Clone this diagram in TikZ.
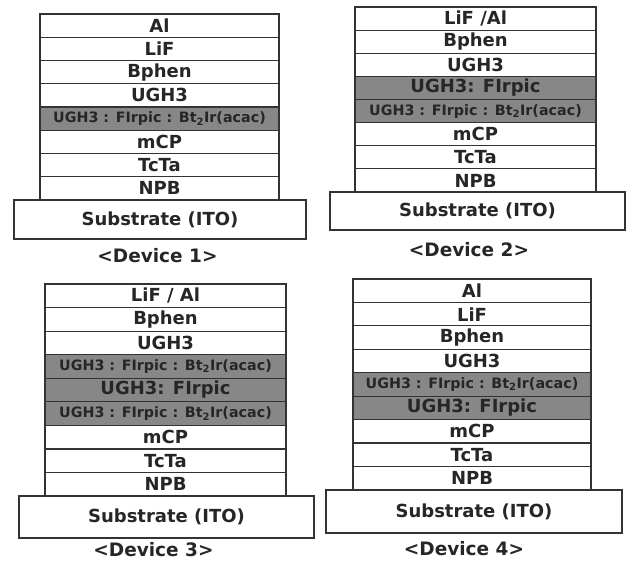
\documentclass[tikz,border=0pt]{standalone}
\usepackage{fontspec}
\setmainfont{DejaVu Sans}
\begin{document}
\begin{tikzpicture}[x=1pt,y=-1pt,
  base/.style={draw=black!80, line width=1.2pt, inner sep=0pt, text=black!85, font=\bfseries\fontsize{18}{18}\selectfont},
  plain/.style={base, fill=white},
  host/.style={base, fill=black!47},
  mix/.style={base, fill=black!47, font=\bfseries\fontsize{14.3}{14.3}\selectfont},
  subst/.style={base, fill=white, line width=1.6pt, font=\bfseries\fontsize{18}{18}\selectfont},
  devlabel/.style={inner sep=0pt, text=black!85, font=\bfseries\fontsize{18.5}{18.5}\selectfont}]
\useasboundingbox (0,0) rectangle (629,560);
\def\mixtxt{UGH3 : FIrpic : Bt\textsubscript{2}Ir(acac)}
% Device 1
\begin{scope}[every node/.append style={minimum width=239pt, minimum height=23.25pt}]
\foreach \lab/\sty [count=\i] in {Al/plain, LiF/plain, Bphen/plain, UGH3/plain, {\mixtxt}/mix, mCP/plain, TcTa/plain, NPB/plain}
  \node[\sty] (a\i) at (159.5,{14+(\i-0.5)*23.25}) {\lab};
\end{scope}
\node[subst, minimum width=292pt, minimum height=39pt] (asub) at (160,219.5) {Substrate (ITO)};
\node[devlabel] (acap) at (157.5,256) {<Device 1>};
% Device 2
\begin{scope}[every node/.append style={minimum width=241pt, minimum height=23.125pt}]
\foreach \lab/\sty [count=\i] in {{LiF /Al}/plain, Bphen/plain, UGH3/plain, {UGH3: FIrpic}/host, {\mixtxt}/mix, mCP/plain, TcTa/plain, NPB/plain}
  \node[\sty] (b\i) at (475.5,{7+(\i-0.5)*23.125}) {\lab};
\end{scope}
\node[subst, minimum width=295pt, minimum height=38pt] (bsub) at (477.5,211) {Substrate (ITO)};
\node[devlabel] (bcap) at (469,250) {<Device 2>};
% Device 3
\begin{scope}[every node/.append style={minimum width=241pt, minimum height=23.56pt}]
\foreach \lab/\sty [count=\i] in {{LiF / Al}/plain, Bphen/plain, UGH3/plain, {\mixtxt}/mix, {UGH3: FIrpic}/host, {\mixtxt}/mix, mCP/plain, TcTa/plain, NPB/plain}
  \node[\sty] (c\i) at (165.5,{284+(\i-0.5)*23.56}) {\lab};
\end{scope}
\node[subst, minimum width=295pt, minimum height=42pt] (csub) at (166.5,517) {Substrate (ITO)};
\node[devlabel] (ccap) at (153.5,549.5) {<Device 3>};
% Device 4
\begin{scope}[every node/.append style={minimum width=238pt, minimum height=23.44pt}]
\foreach \lab/\sty [count=\i] in {Al/plain, LiF/plain, Bphen/plain, UGH3/plain, {\mixtxt}/mix, {UGH3: FIrpic}/host, mCP/plain, TcTa/plain, NPB/plain}
  \node[\sty] (d\i) at (472,{279+(\i-0.5)*23.44}) {\lab};
\end{scope}
\node[subst, minimum width=296pt, minimum height=43pt] (dsub) at (474,511.5) {Substrate (ITO)};
\node[devlabel] (dcap) at (464,548.5) {<Device 4>};
\end{tikzpicture}
\end{document}
